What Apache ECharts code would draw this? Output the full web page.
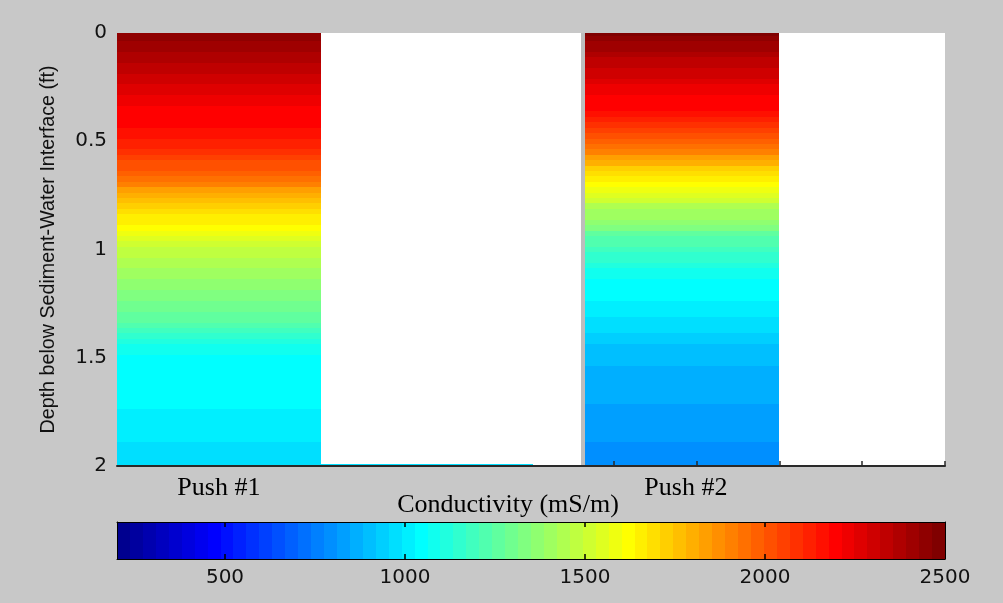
<!DOCTYPE html>
<html><head><meta charset="utf-8">
<script src="https://cdn.jsdelivr.net/npm/echarts@6/dist/echarts.min.js"></script>
<style>html,body{margin:0;padding:0;background:#c8c8c8}#c{width:1003px;height:603px}</style>
</head><body><div id="c"></div>
<script>
// ---- data ----
const depths = [0,0.025,0.05,0.075,0.1,0.125,0.15,0.175,0.2,0.225,0.25,0.275,0.3,0.325,0.35,0.375,0.4,0.425,0.45,0.475,
  0.5,0.525,0.55,0.575,0.6,0.625,0.65,0.675,0.7,0.725,0.75,0.775,0.8,0.825,0.85,0.875,0.9,0.925,0.95,0.975,
  1,1.025,1.05,1.075,1.1,1.125,1.15,1.175,1.2,1.225,1.25,1.275,1.3,1.325,1.35,1.375,1.4,1.425,1.45,1.475,
  1.5,1.525,1.55,1.575,1.6,1.625,1.65,1.675,1.7,1.725,1.75,1.775,1.8,1.825,1.85,1.875,1.9,1.925,1.95,1.975,2];
const push1 = [2460,2440,2420,2400,2385,2365,2345,2328,2310,2292,2275,2260,2245,2228,2212,2200,2190,2180,2168,2152,
  2135,2112,2085,2060,2030,2000,1965,1928,1890,1852,1815,1778,1740,1705,1670,1640,1615,1580,1545,1510,
  1480,1460,1440,1422,1405,1388,1370,1352,1335,1318,1300,1283,1265,1245,1220,1192,1160,1125,1090,1068,
  1058,1056,1054,1052,1050,1048,1045,1040,1035,1029,1022,1017,1012,1006,1000,994,988,982,976,971,966];
const push2 = [2470,2448,2425,2400,2375,2352,2330,2308,2285,2265,2245,2228,2210,2198,2185,2155,2120,2085,2050,2018,
  1985,1940,1895,1848,1800,1740,1680,1640,1615,1578,1540,1495,1450,1420,1390,1355,1320,1278,1235,1212,
  1190,1170,1150,1118,1085,1070,1060,1052,1045,1035,1025,1012,998,984,970,958,945,930,915,905,
  895,887,880,873,866,862,858,853,848,843,838,834,830,825,820,814,808,804,800,796,792];
const pushLabels = ['Push #1','Push #2'];
const pushSpans = [[0,2.46],[5.65,8.0]];          // x extent of each column (axis units)
const pushLabelAt = [1.23,6.87];
const bottomStrip = {span:[2.46,5.02], depth:[1.99,2.0], value:975};
const dividerX = 5.63;
const yTicks = [0,0.5,1,1.5,2];
const xTicks = [6,7,8,9,10];
const cbTicks = [500,1000,1500,2000];
const cbLabels = [500,1000,1500,2000,2500];
const cMin = 200, cMax = 2500, nColors = 64;
const yTitle = 'Depth below Sediment-Water Interface (ft)';
const cbTitle = 'Conductivity (mS/m)';

// ---- jet colormap (MATLAB jet(64)) ----
function jet(i){
  const row=i+1; let r=0,g=0,b=0;
  if(row<=8){b=(row+8)/16;}
  else if(row<=24){g=(row-8)/16;b=1;}
  else if(row<=40){r=(row-24)/16;g=1;b=(40-row)/16;}
  else if(row<=56){r=1;g=(56-row)/16;}
  else {r=(72-row)/16;}
  const h=v=>Math.round(v*255);
  return 'rgb('+h(r)+','+h(g)+','+h(b)+')';
}
function colorOf(v){
  let i=Math.floor((v-cMin)/(cMax-cMin)*nColors);
  i=Math.max(0,Math.min(nColors-1,i));
  return jet(i);
}

// ---- build cells ----
const step = depths[1]-depths[0];
const cells = [];
[push1,push2].forEach((vals,p)=>{
  vals.forEach((v,k)=>{
    const d0=Math.max(0,depths[k]-step/2), d1=Math.min(2,depths[k]+step/2);
    cells.push([pushSpans[p][0],pushSpans[p][1],d0,d1,v]);
  });
});
cells.push([bottomStrip.span[0],bottomStrip.span[1],bottomStrip.depth[0],bottomStrip.depth[1],bottomStrip.value]);

const bandW=(cMax-cMin)/nColors;
const bands=[];
for(let i=0;i<nColors;i++) bands.push([cMin+i*bandW,cMin+(i+1)*bandW,i]);

function rectItem(api,x0,x1,y0,y1,fill){
  const p0=api.coord([x0,y0]), p1=api.coord([x1,y1]);
  const L=Math.round(Math.min(p0[0],p1[0])), R=Math.round(Math.max(p0[0],p1[0]));
  const T=Math.round(Math.min(p0[1],p1[1])), B=Math.round(Math.max(p0[1],p1[1]));
  return {type:'rect',shape:{x:L,y:T,width:R-L,height:Math.max(1,B-T)},style:{fill:fill}};
}

const numFont = {fontFamily:'DejaVu Sans',fontSize:20,color:'#111'};
const serif = 'Liberation Serif';

const chart = echarts.init(document.getElementById('c'),null,{renderer:'canvas'});
chart.setOption({
  animation:false,
  backgroundColor:'#c8c8c8',
  grid:[
    {left:117,top:33,width:828,height:433,show:true,backgroundColor:'#ffffff',borderWidth:0},
    {left:117,top:522,width:828,height:37,show:false}
  ],
  xAxis:[
    {gridIndex:0,type:'value',min:0,max:10,z:10,
      axisLine:{show:true,onZero:false,lineStyle:{color:'#2a2a2a',width:2}},
      axisTick:{show:true,inside:true,length:5,customValues:xTicks,lineStyle:{color:'#2a2a2a',width:1.5}},
      axisLabel:{show:true,customValues:pushLabelAt,
        formatter:v=>{let b=0,bd=1e9;pushLabelAt.forEach((s,i)=>{const d=Math.abs(s-v);if(d<bd){bd=d;b=i;}});return pushLabels[b];},
        fontFamily:serif,fontSize:26,color:'#000',margin:9},
      splitLine:{show:false}},
    {gridIndex:1,type:'value',min:cMin,max:cMax,z:10,position:'bottom',
      axisLine:{show:true,onZero:false,lineStyle:{color:'#000',width:1}},
      axisTick:{show:true,inside:true,length:5,customValues:cbTicks,lineStyle:{color:'#000',width:1.5}},
      axisLabel:Object.assign({show:true,customValues:cbLabels,margin:9,formatter:v=>String(v)},numFont),
      splitLine:{show:false}},
    {gridIndex:1,type:'value',min:cMin,max:cMax,z:10,position:'top',
      axisLine:{show:true,onZero:false,lineStyle:{color:'#000',width:1}},
      axisTick:{show:true,inside:true,length:5,customValues:cbTicks,lineStyle:{color:'#000',width:1.5}},
      axisLabel:{show:false},splitLine:{show:false}}
  ],
  yAxis:[
    {gridIndex:0,type:'value',min:0,max:2,interval:0.5,inverse:true,
      axisLine:{show:false},axisTick:{show:false},splitLine:{show:false},
      axisLabel:Object.assign({margin:10,customValues:yTicks,formatter:v=>String(v)},numFont),
      name:yTitle,nameLocation:'middle',nameGap:58,
      nameTextStyle:{fontFamily:'Liberation Sans',fontSize:19.7,color:'#111'}},
    {gridIndex:1,type:'value',min:0,max:1,position:'left',z:10,
      axisLine:{show:true,onZero:false,lineStyle:{color:'#000',width:1}},axisTick:{show:false},axisLabel:{show:false},splitLine:{show:false}},
    {gridIndex:1,type:'value',min:0,max:1,position:'right',z:10,
      axisLine:{show:true,onZero:false,lineStyle:{color:'#000',width:1}},axisTick:{show:false},axisLabel:{show:false},splitLine:{show:false}}
  ],
  series:[
    {type:'custom',xAxisIndex:0,yAxisIndex:0,data:cells,clip:true,
      renderItem:(params,api)=>rectItem(api,api.value(0),api.value(1),api.value(2),api.value(3),colorOf(api.value(4))),
      markLine:{silent:true,symbol:'none',label:{show:false},
        lineStyle:{color:'#bdbdbd',width:4,type:'solid'},data:[{xAxis:dividerX}]}},
    {type:'custom',xAxisIndex:1,yAxisIndex:1,data:bands,
      renderItem:(params,api)=>rectItem(api,api.value(0),api.value(1),0,1,jet(api.value(2)))}
  ],
  graphic:[
    {type:'text',x:508,y:505,z:20,style:{text:cbTitle,font:'26px "Liberation Serif"',fill:'#000',textAlign:'center',textVerticalAlign:'middle'}}
  ]
});
</script></body></html>
